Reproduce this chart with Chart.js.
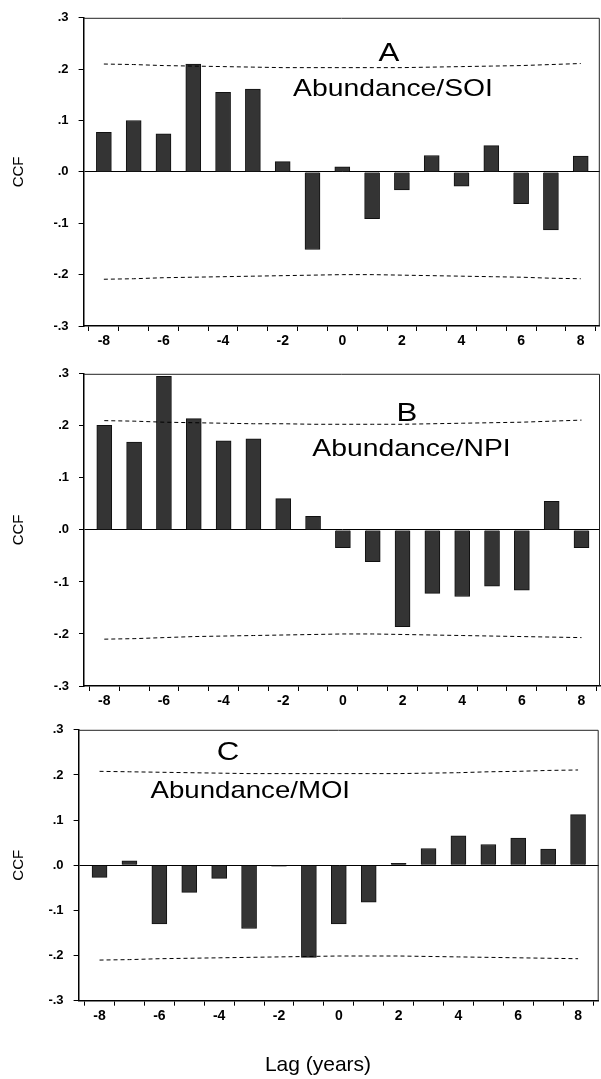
<!DOCTYPE html>
<html lang="en">
<head>
<meta charset="UTF-8">
<meta name="viewport" content="width=device-width, initial-scale=1.0">
<title>CCF: Abundance vs SOI / NPI / MOI</title>
<script src="https://cdn.jsdelivr.net/npm/chart.js"></script>
<style>
    html, body { margin: 0; padding: 0; background: #fff; }
    body { width: 601px; height: 1079px; position: relative; overflow: hidden; }
    .panel { position: absolute; left: 0; width: 601px; }
</style>
</head>
<body>
<div class="panel" style="top:0;height:356px"><canvas id="chartA"></canvas></div>
<div class="panel" style="top:356px;height:356px"><canvas id="chartB"></canvas></div>
<div class="panel" style="top:712px;height:367px"><canvas id="chartC"></canvas></div>

<script>
// lags in years
const lags = [-8, -7, -6, -5, -4, -3, -2, -1, 0, 1, 2, 3, 4, 5, 6, 7, 8];

// cross-correlation values
const ccfSOI = [0.077, 0.100, 0.074, 0.210, 0.155, 0.161, 0.020, -0.151, 0.010, -0.091, -0.035, 0.032, -0.028, 0.051, -0.062, -0.113, 0.031];
const ccfNPI = [0.201, 0.169, 0.295, 0.214, 0.171, 0.175, 0.060, 0.026, -0.034, -0.061, -0.186, -0.122, -0.128, -0.108, -0.116, 0.055, -0.034];
const ccfMOI = [-0.027, 0.010, -0.130, -0.060, -0.029, -0.140, -0.002, -0.204, -0.130, -0.082, 0.004, 0.037, 0.065, 0.046, 0.060, 0.036, 0.112];

// confidence limits (dashed lines)
const upperSOI = [0.210, 0.209, 0.207, 0.206, 0.205, 0.204, 0.203, 0.203, 0.203, 0.203, 0.203, 0.204, 0.205, 0.206, 0.207, 0.209, 0.211];
const lowerSOI = [-0.209, -0.208, -0.206, -0.205, -0.204, -0.203, -0.202, -0.201, -0.200, -0.200, -0.201, -0.202, -0.203, -0.204, -0.205, -0.207, -0.208];
const upperNPI = [0.210, 0.209, 0.207, 0.206, 0.205, 0.204, 0.204, 0.203, 0.203, 0.203, 0.203, 0.204, 0.205, 0.206, 0.207, 0.209, 0.211];
const lowerNPI = [-0.210, -0.209, -0.207, -0.205, -0.204, -0.203, -0.202, -0.201, -0.200, -0.200, -0.201, -0.202, -0.203, -0.204, -0.205, -0.206, -0.207];
const upperMOI = [0.208, 0.207, 0.206, 0.205, 0.204, 0.203, 0.203, 0.203, 0.203, 0.203, 0.203, 0.204, 0.205, 0.207, 0.208, 0.210, 0.211];
const lowerMOI = [-0.210, -0.209, -0.207, -0.206, -0.205, -0.204, -0.203, -0.202, -0.201, -0.201, -0.201, -0.202, -0.203, -0.204, -0.205, -0.206, -0.207];

// y tick labels as printed: .3 .2 .1 .0 -.1 -.2 -.3
const yTicks = [0.3, 0.2, 0.1, 0.0, -0.1, -0.2, -0.3];

const sans = '"Liberation Sans", Arial, sans-serif';

function yLabel(v) {
    const n = Math.round(v * 10);
    if (n === 0) return '.0';
    return (n < 0 ? '-.' : '.') + Math.abs(n);
}

// draws the panel letter / caption text (stretched a bit like the print)
const panelText = {
    id: 'panelText',
    afterDraw(chart, args, opts) {
        const ctx = chart.ctx;
        (opts.items || []).forEach(it => {
            ctx.save();
            ctx.font = it.font;
            ctx.fillStyle = '#000';
            ctx.textAlign = 'center';
            ctx.textBaseline = 'alphabetic';
            ctx.translate(it.x, it.y);
            ctx.scale(it.stretch || 1, 1);
            ctx.fillText(it.text, 0, 0);
            ctx.restore();
        });
    }
};

// box around the plotting area
const frame = {
    id: 'frame',
    afterDatasetsDraw(chart) {
        const a = chart.chartArea;
        const ctx = chart.ctx;
        ctx.save();
        ctx.strokeStyle = '#222';
        ctx.lineWidth = 1;
        ctx.beginPath();
        ctx.moveTo(a.left, a.top + 0.5);
        ctx.lineTo(a.right - 0.5, a.top + 0.5);
        ctx.lineTo(a.right - 0.5, a.bottom);
        ctx.stroke();
        ctx.restore();
    }
};

function makePanel(id, values, upper, lower, cfg) {
    const canvasH = document.getElementById(id).parentNode.clientHeight;
    const pts = arr => lags.map((x, i) => ({ x: x, y: arr[i] }));
    const dashed = arr => ({
        type: 'line',
        data: pts(arr),
        borderColor: '#000',
        borderWidth: 1,
        borderDash: [4, 3],
        pointRadius: 0,
        fill: false,
        order: 1
    });

    return new Chart(document.getElementById(id), {
        type: 'bar',
        data: {
            datasets: [
                {
                    type: 'bar',
                    data: pts(values),
                    backgroundColor: '#343434',
                    borderColor: '#111',
                    borderWidth: 1,
                    barThickness: 15,
                    order: 2
                },
                dashed(upper),
                dashed(lower)
            ]
        },
        options: {
            responsive: true,
            maintainAspectRatio: false,
            animation: false,
            events: [],
            layout: { padding: { top: cfg.top, right: 601 - cfg.right, left: 0, bottom: 0 } },
            plugins: {
                legend: { display: false },
                tooltip: { enabled: false },
                panelText: { items: cfg.texts }
            },
            scales: {
                x: {
                    type: 'linear',
                    min: cfg.xMin,
                    max: cfg.xMax,
                    offset: false,
                    afterFit: s => { s.height = canvasH - cfg.bottom; },
                    grid: { drawOnChartArea: false, tickLength: 5, tickColor: '#000', lineWidth: 1 },
                    border: { color: '#000', width: 1.5 },
                    ticks: {
                        stepSize: 1,
                        includeBounds: false,
                        autoSkip: false,
                        maxRotation: 0,
                        padding: 2,
                        color: '#000',
                        font: { family: sans, size: 14, weight: 'bold' },
                        callback: v => (Math.round(v) % 2 === 0 ? String(Math.round(v)) : '')
                    }
                },
                y: {
                    min: yTicks[yTicks.length - 1],
                    max: yTicks[0],
                    afterFit: s => { s.width = cfg.left; },
                    grid: {
                        color: c => (c.tick && Math.abs(c.tick.value) < 1e-9 ? '#000' : 'rgba(0,0,0,0)'),
                        lineWidth: 1,
                        tickLength: 5,
                        tickColor: '#000'
                    },
                    border: { color: '#000', width: 1.5 },
                    ticks: {
                        stepSize: 0.1,
                        padding: 10,
                        color: '#000',
                        font: { family: sans, size: 13, weight: 'bold' },
                        callback: v => yLabel(v)
                    },
                    title: {
                        display: true,
                        text: 'CCF',
                        color: '#000',
                        font: { family: sans, size: 15 },
                        padding: { top: 10, bottom: 0 }
                    }
                }
            }
        },
        plugins: [panelText, frame]
    });
}

const letterFont = '26px ' + sans;
const captionFont = '24px ' + sans;

makePanel('chartA', ccfSOI, upperSOI, lowerSOI, {
    top: 10.3, bottom: 326, left: 83.6, right: 599.8, xMin: -8.68, xMax: 8.64,
    texts: [
        { text: 'A', x: 389, y: 61, font: letterFont, stretch: 1.2 },
        { text: 'Abundance/SOI', x: 393, y: 95.5, font: captionFont, stretch: 1.18 }
    ]
});

makePanel('chartB', ccfNPI, upperNPI, lowerNPI, {
    top: 14, bottom: 330, left: 84, right: 600, xMin: -8.68, xMax: 8.62,
    texts: [
        { text: 'B', x: 407, y: 65, font: letterFont, stretch: 1.2 },
        { text: 'Abundance/NPI', x: 411.5, y: 100, font: captionFont, stretch: 1.18 }
    ]
});

makePanel('chartC', ccfMOI, upperMOI, lowerMOI, {
    top: 16.3, bottom: 288.7, left: 78.6, right: 598.7, xMin: -8.70, xMax: 8.69,
    texts: [
        { text: 'C', x: 228, y: 48, font: letterFont, stretch: 1.2 },
        { text: 'Abundance/MOI', x: 250.3, y: 86, font: captionFont, stretch: 1.15 },
        { text: 'Lag (years)', x: 318, y: 359, font: '21px ' + sans, stretch: 1 }
    ]
});
</script>
</body>
</html>
